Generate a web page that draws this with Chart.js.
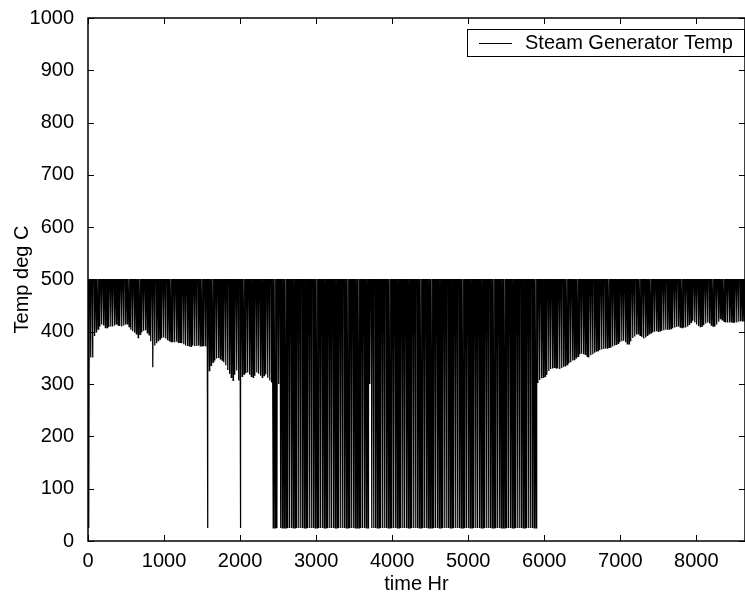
<!DOCTYPE html>
<html>
<head>
<meta charset="utf-8">
<script src="https://cdn.jsdelivr.net/npm/chart.js@4.4.0/dist/chart.umd.min.js"></script>
<style>
  html, body { margin: 0; padding: 0; background: #fff; overflow: hidden; }
  #wrap { width: 745px; height: 596px; }
</style>
</head>
<body>
<div id="wrap"><canvas id="myChart" width="745" height="596"></canvas></div>
<script>
// tick labels
var xTicks = [0, 1000, 2000, 3000, 4000, 5000, 6000, 7000, 8000];
var yTicks = [0, 100, 200, 300, 400, 500, 600, 700, 800, 900, 1000];

// one cycle per day: top of the cycle and the lowest temp reached that day
var hoursPerDay = 24;
var dailyMax = 500;
var dailyMin = [
    25, 351, 351, 392, 400, 405, 410, 414, 412, 408,
    408, 409, 410, 410, 412, 415, 413, 411, 410, 412,
    414, 415, 410, 404, 401, 398, 396, 389, 395, 399,
    402, 403, 398, 394, 382, 332, 374, 378, 383, 386,
    388, 389, 387, 384, 383, 381, 380, 380, 381, 380,
    380, 378, 376, 374, 373, 373, 372, 374, 373, 373,
    374, 373, 373, 373, 372, 25, 326, 336, 342, 345,
    349, 350, 348, 346, 342, 336, 327, 320, 313, 307,
    318, 326, 307, 25, 315, 319, 321, 322, 318, 315,
    313, 316, 322, 320, 316, 313, 316, 319, 312, 307,
    303, 25, 25, 25, 300, 25, 25, 25, 25, 25,
    25, 25, 25, 25, 25, 25, 25, 25, 25, 25,
    25, 25, 25, 25, 25, 25, 25, 25, 25, 25,
    25, 25, 25, 25, 25, 25, 25, 25, 25, 25,
    25, 25, 25, 25, 25, 25, 25, 25, 25, 25,
    25, 25, 25, 25, 300, 25, 25, 25, 25, 25,
    25, 25, 25, 25, 25, 25, 25, 25, 25, 25,
    25, 25, 25, 25, 25, 25, 25, 25, 25, 25,
    25, 25, 25, 25, 25, 25, 25, 25, 25, 25,
    25, 25, 25, 25, 25, 25, 25, 25, 25, 25,
    25, 25, 25, 25, 25, 25, 25, 25, 25, 25,
    25, 25, 25, 25, 25, 25, 25, 25, 25, 25,
    25, 25, 25, 25, 25, 25, 25, 25, 25, 25,
    25, 25, 25, 25, 25, 25, 25, 25, 25, 25,
    25, 25, 25, 25, 25, 25, 302, 308, 311, 313,
    315, 318, 325, 329, 330, 332, 331, 330, 329, 331,
    333, 335, 337, 340, 342, 345, 347, 350, 353, 357,
    358, 357, 357, 353, 351, 355, 357, 360, 363, 364,
    365, 366, 367, 368, 369, 370, 370, 372, 374, 376,
    378, 380, 382, 383, 380, 377, 377, 382, 388, 391,
    395, 396, 393, 390, 387, 389, 393, 396, 398, 399,
    400, 401, 401, 402, 402, 403, 404, 404, 405, 406,
    407, 408, 409, 410, 409, 408, 408, 408, 410, 414,
    418, 421, 418, 414, 411, 410, 411, 413, 416, 418,
    416, 413, 411, 410, 414, 419, 425, 423, 420, 418,
    418, 418, 419, 418, 418, 418, 419, 420, 421, 421
];

// hours into the day where the temp starts to fall, bottoms out, is back up
var dipStart = 7, dipLow = 12, dipEnd = 17;

// build the x/y points the line needs
var points = [];
dailyMin.forEach((low, day) => {
    let t0 = day * hoursPerDay;
    points.push({x: t0, y: dailyMax});
    points.push({x: t0 + dipStart, y: dailyMax});
    points.push({x: t0 + dipLow, y: low});
    points.push({x: t0 + dipEnd, y: dailyMax});
});
points.push({x: dailyMin.length * hoursPerDay, y: dailyMax});

var FONT = '"Liberation Sans", Arial, Helvetica, sans-serif';

// box round the plot, inward ticks and the legend, matlab style
const frame = {
    id: 'frame',
    afterDraw(chart) {
        const ctx = chart.ctx;
        const a = chart.chartArea;
        const xs = chart.scales.x, ys = chart.scales.y;
        ctx.save();
        ctx.strokeStyle = '#000';
        ctx.lineWidth = 1.5;
        ctx.strokeRect(a.left, a.top, a.right - a.left, a.bottom - a.top);

        ctx.lineWidth = 1;
        ctx.beginPath();
        xs.ticks.forEach(t => {
            let px = Math.round(xs.getPixelForValue(t.value)) + 0.5;
            ctx.moveTo(px, a.bottom); ctx.lineTo(px, a.bottom - 6);
            ctx.moveTo(px, a.top); ctx.lineTo(px, a.top + 6);
        });
        ys.ticks.forEach(t => {
            let py = Math.round(ys.getPixelForValue(t.value)) + 0.5;
            ctx.moveTo(a.left, py); ctx.lineTo(a.left + 6, py);
            ctx.moveTo(a.right, py); ctx.lineTo(a.right - 6, py);
        });
        ctx.stroke();

        // legend
        const label = chart.data.datasets[0].label;
        ctx.font = '20px ' + FONT;
        const tw = ctx.measureText(label).width;
        const right = Math.round(a.right) - 1, top = Math.round(a.top) + 11, h = 27;
        const left = Math.round(right - tw - 69);
        const mid = Math.round(top + h / 2) + 0.5;
        ctx.fillStyle = '#fff';
        ctx.fillRect(left, top, right - left, h);
        ctx.strokeRect(left + 0.5, top + 0.5, right - left, h);
        ctx.beginPath();
        ctx.moveTo(left + 12, mid);
        ctx.lineTo(left + 45, mid);
        ctx.stroke();
        ctx.fillStyle = '#000';
        ctx.textBaseline = 'middle';
        ctx.fillText(label, left + 58, top + h / 2 + 1);
        ctx.restore();
    }
};

var ctx = document.getElementById('myChart').getContext('2d');
var chart = new Chart(ctx, {
    type: 'line',
    data: {
        datasets: [{
            label: 'Steam Generator Temp',
            data: points,
            borderColor: '#000',
            borderWidth: 1.25,
            pointRadius: 0,
            fill: false,
            tension: 0
        }]
    },
    options: {
        responsive: false,
        animation: false,
        parsing: false,
        normalized: true,
        layout: { padding: { top: 16, right: 0, bottom: 0, left: 0 } },
        plugins: {
            legend: { display: false },
            tooltip: { enabled: false }
        },
        scales: {
            x: {
                type: 'linear',
                min: 0,
                max: 8640,
                afterBuildTicks: s => { s.ticks = xTicks.map(v => ({value: v})); },
                afterFit: s => { s.height = 55; },
                grid: { display: false },
                border: { display: false },
                ticks: { color: '#000', padding: 0, maxRotation: 0, callback: v => String(v), font: { family: FONT, size: 20 } },
                title: { display: true, text: 'time Hr', color: '#000', padding: { top: 0, bottom: 0 }, font: { family: FONT, size: 20 } }
            },
            y: {
                min: 0,
                max: 1000,
                afterBuildTicks: s => { s.ticks = yTicks.map(v => ({value: v})); },
                afterFit: s => { s.width = 88; },
                grid: { display: false },
                border: { display: false },
                ticks: { color: '#000', padding: 6, callback: v => String(v), font: { family: FONT, size: 20 } },
                title: { display: true, text: 'Temp deg C', color: '#000', padding: { top: 10, bottom: 0 }, font: { family: FONT, size: 20 } }
            }
        }
    },
    plugins: [frame]
});
</script>
</body>
</html>
